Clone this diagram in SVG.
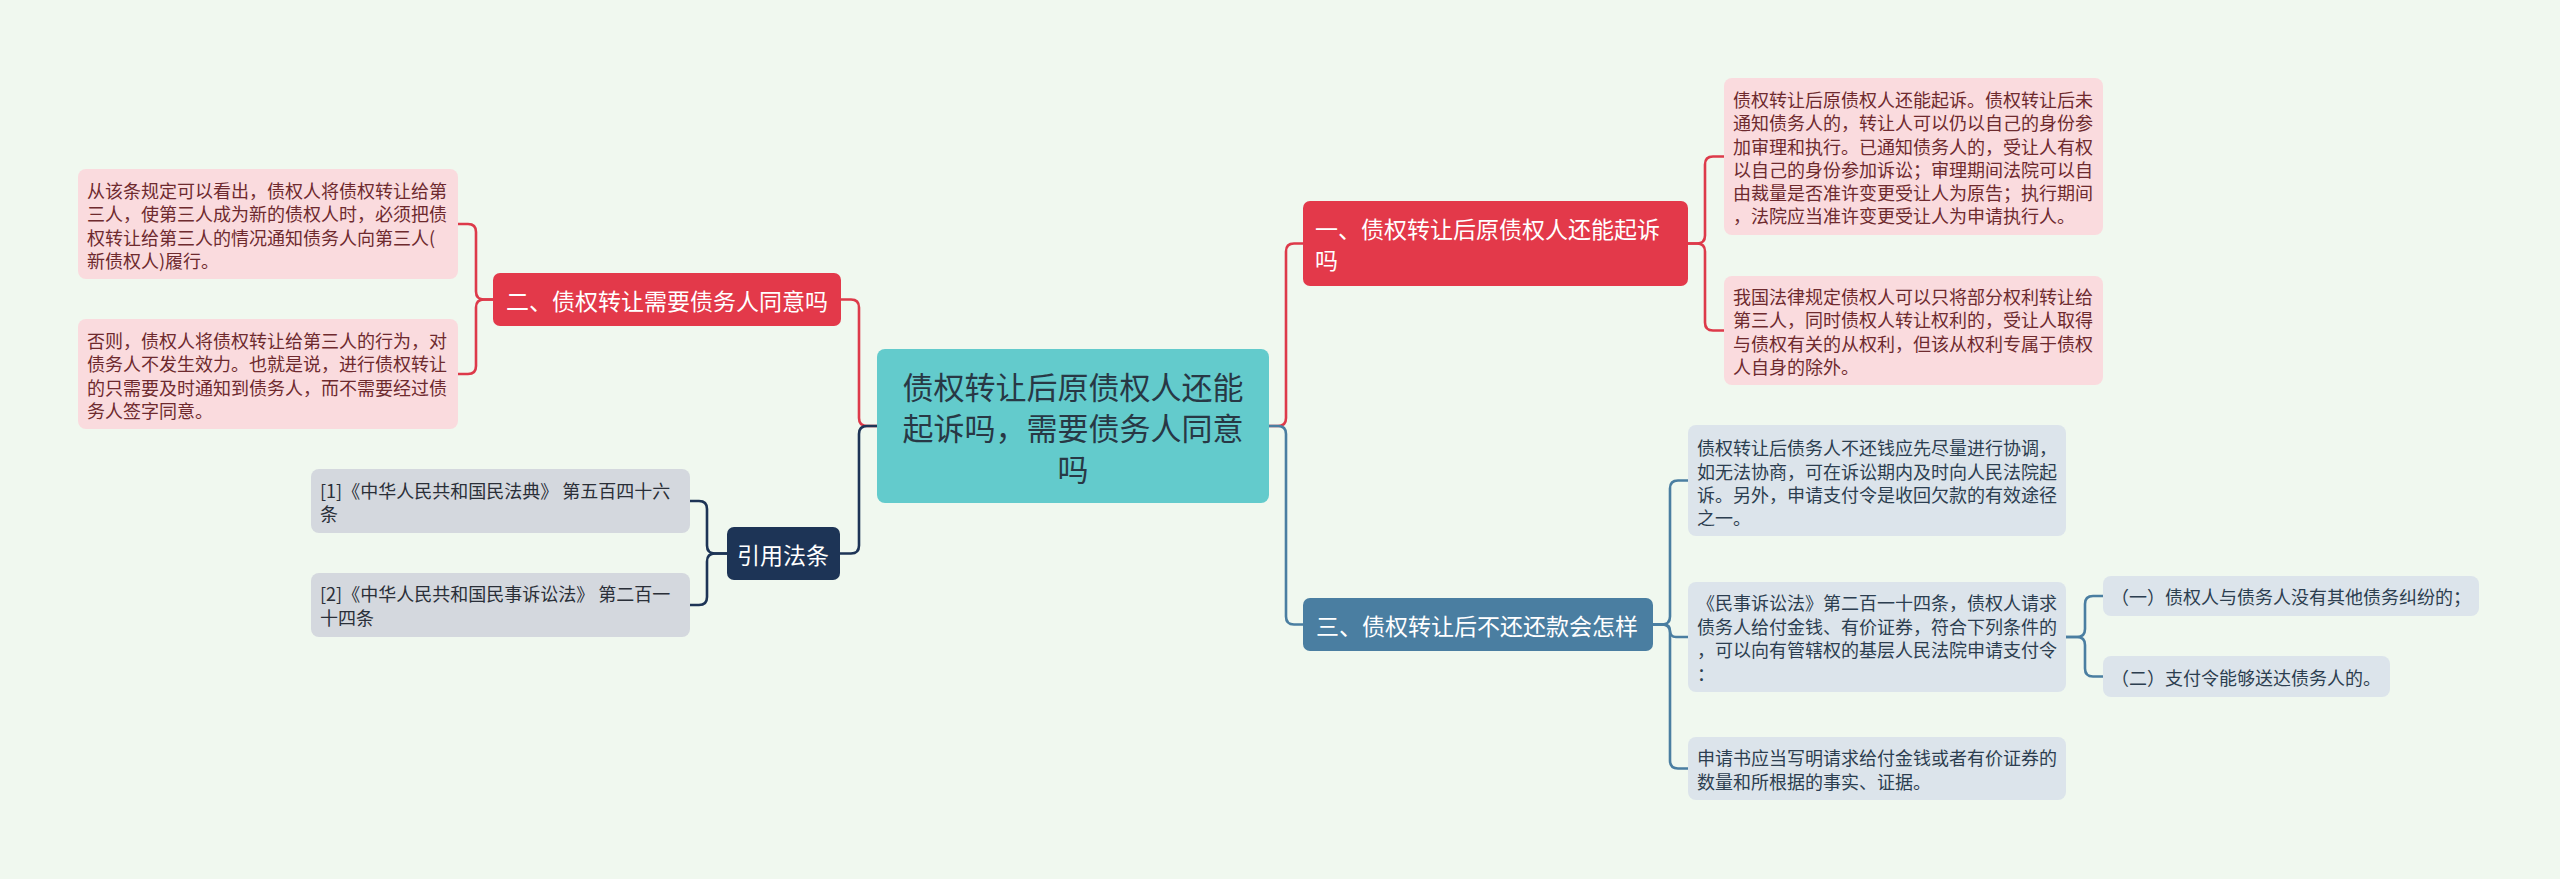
<svg xmlns="http://www.w3.org/2000/svg" width="2560" height="879" viewBox="0 0 2560 879">
<style>
text{font-family:"Noto Sans CJK SC","Noto Sans",sans-serif;dominant-baseline:central}
.c{fill:none;stroke-width:2.6;stroke-linecap:round}
.cr{stroke:#DD3A4A}.cb{stroke:#4A7EA1}.cn{stroke:#1D3456}
.center{fill:#63CBCC}
.red{fill:#E3394A}.blue{fill:#4A7EA1}.navy{fill:#1D3456}
.pink{fill:#FADBDE}.bg{fill:#DCE4EB}.gray{fill:#D4D8DE}
.tc{font-size:31px;fill:#283845;text-anchor:middle}
.tm{font-size:23px;fill:#FFFFFF}
.tp{font-size:18px;fill:#6E2A2E}
.tb{font-size:18px;fill:#2C3E50}
.tg{font-size:18px;fill:#2A2F38}
</style>
<rect x="0" y="0" width="2560" height="879" fill="#F0F8EF"/>
<g id="connectors">
<path class="c cr" d="M1269 426 H1278 Q1286 426 1286 418 V251.5 Q1286 243.5 1294 243.5 H1303"/>
<path class="c cb" d="M1269 426 H1278 Q1286 426 1286 434 V616.5 Q1286 624.5 1294 624.5 H1303"/>
<path class="c cr" d="M1688 243.5 H1697 Q1705 243.5 1705 235.5 V164.5 Q1705 156.5 1713 156.5 H1724"/>
<path class="c cr" d="M1688 243.5 H1697 Q1705 243.5 1705 251.5 V322.5 Q1705 330.5 1713 330.5 H1724"/>
<path class="c cb" d="M1653 624.5 H1662 Q1670 624.5 1670 616.5 V488.5 Q1670 480.5 1678 480.5 H1688"/>
<path class="c cb" d="M1653 624.5 H1664 Q1670 624.5 1670 630.75 Q1670 637 1676 637 H1688"/>
<path class="c cb" d="M1653 624.5 H1662 Q1670 624.5 1670 632.5 V760.5 Q1670 768.5 1678 768.5 H1688"/>
<path class="c cb" d="M2066 637 H2077 Q2085 637 2085 629 V604 Q2085 596 2093 596 H2103"/>
<path class="c cb" d="M2066 637 H2077 Q2085 637 2085 645 V668.5 Q2085 676.5 2093 676.5 H2103"/>
<path class="c cr" d="M877 426 H867 Q859 426 859 418 V307.5 Q859 299.5 851 299.5 H841"/>
<path class="c cn" d="M877 426 H867 Q859 426 859 434 V545.5 Q859 553.5 851 553.5 H840"/>
<path class="c cr" d="M493 299.5 H484 Q476 299.5 476 291.5 V232 Q476 224 468 224 H458"/>
<path class="c cr" d="M493 299.5 H484 Q476 299.5 476 307.5 V366 Q476 374 468 374 H458"/>
<path class="c cn" d="M727 553.5 H715 Q707 553.5 707 545.5 V509 Q707 501 699 501 H690"/>
<path class="c cn" d="M727 553.5 H715 Q707 553.5 707 561.5 V597 Q707 605 699 605 H690"/>
</g>
<g id="center">
<rect class="center" x="877" y="349" width="392" height="154" rx="8"/>
<text class="tc" x="1073" y="385">债权转让后原债权人还能</text>
<text class="tc" x="1073" y="426">起诉吗，需要债务人同意</text>
<text class="tc" x="1073" y="467">吗</text>
</g>
<g id="n1">
<rect class="red" x="1303" y="201" width="385" height="85" rx="7"/>
<text class="tm" x="1315" y="228">一、债权转让后原债权人还能起诉</text>
<text class="tm" x="1315" y="259">吗</text>
</g>
<g id="n1a">
<rect class="pink" x="1724" y="78" width="379" height="157" rx="8"/>
<text class="tp" x="1733" y="99">债权转让后原债权人还能起诉。债权转让后未</text>
<text class="tp" x="1733" y="122">通知债务人的，转让人可以仍以自己的身份参</text>
<text class="tp" x="1733" y="146">加审理和执行。已通知债务人的，受让人有权</text>
<text class="tp" x="1733" y="169">以自己的身份参加诉讼；审理期间法院可以自</text>
<text class="tp" x="1733" y="192">由裁量是否准许变更受让人为原告；执行期间</text>
<text class="tp" x="1733" y="215">，法院应当准许变更受让人为申请执行人。</text>
</g>
<g id="n1b">
<rect class="pink" x="1724" y="276" width="379" height="109" rx="8"/>
<text class="tp" x="1733" y="296">我国法律规定债权人可以只将部分权利转让给</text>
<text class="tp" x="1733" y="319">第三人，同时债权人转让权利的，受让人取得</text>
<text class="tp" x="1733" y="343">与债权有关的从权利，但该从权利专属于债权</text>
<text class="tp" x="1733" y="366">人自身的除外。</text>
</g>
<g id="n3">
<rect class="blue" x="1303" y="598" width="350" height="53" rx="7"/>
<text class="tm" x="1316" y="624.5">三、债权转让后不还还款会怎样</text>
</g>
<g id="n3a">
<rect class="bg" x="1688" y="425" width="378" height="111" rx="8"/>
<text class="tb" x="1697" y="447">债权转让后债务人不还钱应先尽量进行协调，</text>
<text class="tb" x="1697" y="471">如无法协商，可在诉讼期内及时向人民法院起</text>
<text class="tb" x="1697" y="494">诉。另外，申请支付令是收回欠款的有效途径</text>
<text class="tb" x="1697" y="517">之一。</text>
</g>
<g id="n3b">
<rect class="bg" x="1688" y="582" width="378" height="110" rx="8"/>
<text class="tb" x="1697" y="602">《民事诉讼法》第二百一十四条，债权人请求</text>
<text class="tb" x="1697" y="626">债务人给付金钱、有价证券，符合下列条件的</text>
<text class="tb" x="1697" y="649">，可以向有管辖权的基层人民法院申请支付令</text>
<text class="tb" x="1697" y="673">：</text>
</g>
<g id="n3b1">
<rect class="bg" x="2103" y="576" width="376" height="40" rx="8"/>
<text class="tb" x="2111" y="596">（一）债权人与债务人没有其他债务纠纷的；</text>
</g>
<g id="n3b2">
<rect class="bg" x="2103" y="656" width="287" height="41" rx="8"/>
<text class="tb" x="2111" y="676.5">（二）支付令能够送达债务人的。</text>
</g>
<g id="n3c">
<rect class="bg" x="1688" y="737" width="378" height="63" rx="8"/>
<text class="tb" x="1697" y="757">申请书应当写明请求给付金钱或者有价证券的</text>
<text class="tb" x="1697" y="781">数量和所根据的事实、证据。</text>
</g>
<g id="n2">
<rect class="red" x="493" y="273" width="348" height="53" rx="7"/>
<text class="tm" x="506" y="299.5">二、债权转让需要债务人同意吗</text>
</g>
<g id="n2a">
<rect class="pink" x="78" y="169" width="380" height="110" rx="8"/>
<text class="tp" x="87" y="190">从该条规定可以看出，债权人将债权转让给第</text>
<text class="tp" x="87" y="213">三人，使第三人成为新的债权人时，必须把债</text>
<text class="tp" x="87" y="237">权转让给第三人的情况通知债务人向第三人(</text>
<text class="tp" x="87" y="260">新债权人)履行。</text>
</g>
<g id="n2b">
<rect class="pink" x="78" y="319" width="380" height="110" rx="8"/>
<text class="tp" x="87" y="340">否则，债权人将债权转让给第三人的行为，对</text>
<text class="tp" x="87" y="363">债务人不发生效力。也就是说，进行债权转让</text>
<text class="tp" x="87" y="387">的只需要及时通知到债务人，而不需要经过债</text>
<text class="tp" x="87" y="410">务人签字同意。</text>
</g>
<g id="n4">
<rect class="navy" x="727" y="527" width="113" height="53" rx="7"/>
<text class="tm" x="737" y="553.5">引用法条</text>
</g>
<g id="n4a">
<rect class="gray" x="311" y="469" width="379" height="64" rx="8"/>
<text class="tg" x="320" y="490">[1]《中华人民共和国民法典》 第五百四十六</text>
<text class="tg" x="320" y="513">条</text>
</g>
<g id="n4b">
<rect class="gray" x="311" y="573" width="379" height="64" rx="8"/>
<text class="tg" x="320" y="593">[2]《中华人民共和国民事诉讼法》 第二百一</text>
<text class="tg" x="320" y="617">十四条</text>
</g>
</svg>
